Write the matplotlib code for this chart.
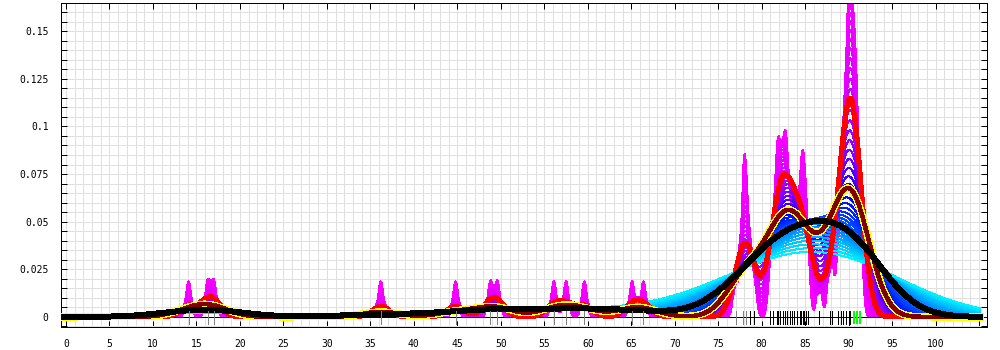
import numpy as np
import matplotlib
matplotlib.use("Agg")
import matplotlib.pyplot as plt
from matplotlib.colors import LinearSegmentedColormap
from matplotlib.ticker import MultipleLocator, FuncFormatter

# rug positions (observations) and how many times each value occurs
gray_x = [14.1, 16.3, 17.0, 36.2, 44.8, 48.8, 49.6, 56.1, 57.5, 59.6, 65.1, 66.4, 77.0, 77.9, 78.2]
gray_n = [1, 1, 1, 1, 1, 1, 1, 1, 1, 1, 1, 1, 1, 3, 2]
black_x = [78.6, 79.1, 81.0, 81.3, 81.7, 81.9, 82.1, 82.4, 82.7, 82.9, 83.2, 83.5, 83.7,
           84.0, 84.35, 84.5, 84.7, 84.9, 85.1, 85.3, 86.6, 87.8, 88.05, 88.8, 89.1,
           89.4, 89.65, 90.0, 90.2]
black_n = [1, 1, 1, 1, 2, 2, 1, 2, 2, 2, 1, 1, 1,
           1, 1, 1, 2, 1, 1, 1, 1, 1, 1, 1, 2,
           2, 2, 4, 5]
green_x = [90.65, 90.9, 91.35]
green_n = [4, 3, 2]

# bandwidths
bw_family = np.geomspace(0.297, 8.6, 45)
bw_red = 1.0
bw_brown = 2.1
bw_black = 4.2

xs = np.array(gray_x + black_x + green_x)
ws = np.array(gray_n + black_n + green_n, dtype=float)
grid = np.linspace(-0.3, 105.1, 2000)


def kde(h):
    z = (grid[:, None] - xs[None, :]) / h
    k = np.exp(-0.5 * z ** 2) / (h * np.sqrt(2 * np.pi))
    return (k * ws).sum(axis=1) / ws.sum()


plt.rcParams['font.family'] = ['DejaVu Sans Mono']
plt.rcParams['font.size'] = 7
px = 0.72  # one pixel in points

fig = plt.figure(figsize=(10, 3.5), dpi=100)
ax = fig.add_axes([0.061, 0.066, 0.926, 0.925])

# colour of each family curve follows log(bandwidth)
cmap = LinearSegmentedColormap.from_list(
    "fam", [(0, '#ff00ff'), (0.3, '#e000ff'), (0.48, '#8000ff'), (0.6, '#0000ff'),
            (0.8, '#0070ff'), (1, '#00f0ff')])
lo, hi = np.log(bw_family[0]), np.log(bw_family[-1])
for h in bw_family:
    c = cmap((np.log(h) - lo) / (hi - lo))
    ax.plot(grid, kde(h), color=c, lw=px, antialiased=False, zorder=2)

ax.axhline(0, color='black', lw=px, antialiased=False, zorder=2.5)

ax.plot(grid, kde(bw_red), color='#ff0000', lw=3, antialiased=False, zorder=3)
yb = kde(bw_brown)
ax.plot(grid, yb, color='#ffff00', lw=4.5, antialiased=False, zorder=4)
ax.plot(grid, yb, color='#800000', lw=2.5, antialiased=False, zorder=4)
ax.plot(grid, kde(bw_black), color='black', lw=3.6, antialiased=False, zorder=5)

ax.vlines(gray_x, -0.0038, 0.003, color='#808080', lw=px, antialiased=False, zorder=6)
ax.vlines(black_x, -0.0038, 0.003, color='black', lw=px, antialiased=False, zorder=6)
ax.vlines(green_x, -0.0038, 0.003, color='#00ff00', lw=1.4, antialiased=False, zorder=6)

ax.set_xlim(-0.57, 105.9)
ax.set_ylim(-0.00525, 0.1647)
ax.xaxis.set_major_locator(MultipleLocator(5))
ax.xaxis.set_minor_locator(MultipleLocator(1))
ax.xaxis.set_major_formatter(FuncFormatter(lambda v, p: '%g' % v if v <= 100 else ''))
ax.yaxis.set_major_locator(MultipleLocator(0.025))
ax.yaxis.set_minor_locator(MultipleLocator(0.005))
ax.yaxis.set_major_formatter(FuncFormatter(lambda v, p: '%g' % round(v, 4)))
ax.grid(which='both', color='#e0e0e0', lw=px, zorder=0, antialiased=False)
ax.set_axisbelow(True)
ax.tick_params(which='both', direction='in', top=True, right=True, length=4,
               width=px, color='black', labelsize=7)
ax.tick_params(axis='x', which='minor', length=0)
ax.tick_params(axis='x', which='major', pad=9)
ax.tick_params(axis='y', which='major', pad=9)
for s in ax.spines.values():
    s.set_linewidth(px)

fig.savefig('out.png', dpi=100)
